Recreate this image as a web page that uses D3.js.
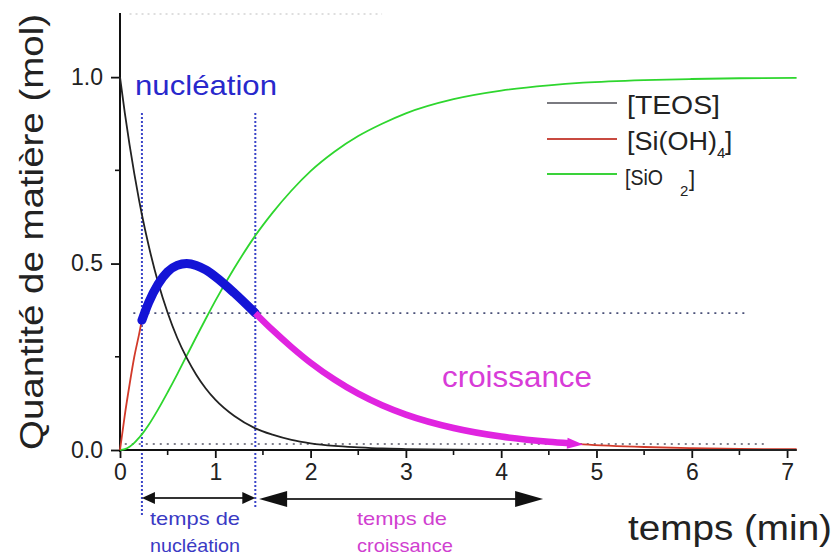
<!DOCTYPE html>
<html>
<head>
<meta charset="utf-8">
<script src="https://cdn.jsdelivr.net/npm/d3@7/dist/d3.min.js"></script>
<style>
  html, body { margin: 0; padding: 0; background: #fff; }
  svg { display: block; font-family: Arial, "Liberation Sans", Helvetica, sans-serif; }
</style>
</head>
<body>
<svg id="chart" width="835" height="555"></svg>
<script>
// Time grid (min) shared by the three species
const times = [0, 0.05, 0.1, 0.15, 0.2, 0.23, 0.3, 0.4, 0.5, 0.6, 0.7, 0.8, 0.9, 1.0,
  1.2, 1.42, 1.6, 1.8, 2.0, 2.25, 2.5, 2.75, 3.0, 3.5, 4.0, 4.5, 4.86, 5.5, 6.0, 6.5, 7.1];

// Amounts of matter (mol)
const teos = [1.00, 0.905, 0.819, 0.741, 0.670, 0.631, 0.549, 0.449, 0.368, 0.301, 0.247, 0.202,
  0.165, 0.135, 0.091, 0.058, 0.041, 0.027, 0.018, 0.011, 0.007, 0.004, 0.0025, 0.001, 0.0003,
  0, 0, 0, 0, 0, 0];
const silanol = [0, 0.093, 0.175, 0.250, 0.310, 0.348, 0.395, 0.445, 0.478, 0.495, 0.500, 0.495,
  0.483, 0.465, 0.421, 0.367, 0.322, 0.276, 0.234, 0.189, 0.151, 0.120, 0.095, 0.059, 0.036,
  0.022, 0.015, 0.008, 0.005, 0.003, 0.002];
const silica = [0, 0.0024, 0.009, 0.019, 0.033, 0.042, 0.067, 0.109, 0.155, 0.203, 0.253, 0.303,
  0.352, 0.400, 0.488, 0.575, 0.636, 0.696, 0.748, 0.800, 0.842, 0.875, 0.903, 0.941, 0.964,
  0.978, 0.985, 0.992, 0.995, 0.997, 0.998];

// Phases: nucleation window and end of the growth arrow (min)
const nucleationWindow = [0.23, 1.42];
const growthEnd = 4.86;
// Reference levels (mol)
const supersatLevel = 0.367;
const solubilityLevel = 0.016;

// Axis ticks
const xTicks = [0, 1, 2, 3, 4, 5, 6, 7];
const xMinorTicks = [0.5, 1.5, 2.5, 3.5, 4.5, 5.5, 6.5];
const yTicks = [0, 0.5, 1.0];
const yMinorTicks = [0.25, 0.75];

const legendItems = ["[TEOS]", "[Si(OH)", "[SiO"];

const svg = d3.select("#chart");

const x = d3.scaleLinear().domain([0, 7.1]).range([120, 796.6]);
const y = d3.scaleLinear().domain([0, 1.172]).range([450, 13]);

// ---- reference dotted lines ----
const g = svg.append("g");
g.append("line")
  .attr("x1", x(0.1)).attr("x2", x(2.75))
  .attr("y1", y(1.172) + 1).attr("y2", y(1.172) + 1)
  .attr("stroke", "#d4d4d4").attr("stroke-width", 1.5).attr("stroke-dasharray", "2,4");
g.append("line")
  .attr("x1", x(0.14)).attr("x2", x(6.56))
  .attr("y1", y(supersatLevel)).attr("y2", y(supersatLevel))
  .attr("stroke", "#4a5078").attr("stroke-width", 1.8).attr("stroke-dasharray", "2,5");
g.append("line")
  .attr("x1", x(0.05)).attr("x2", x(6.76))
  .attr("y1", y(solubilityLevel)).attr("y2", y(solubilityLevel))
  .attr("stroke", "#555565").attr("stroke-width", 1.5).attr("stroke-dasharray", "2,5");
nucleationWindow.forEach((t, i) => {
  g.append("line")
    .attr("x1", x(t)).attr("x2", x(t))
    .attr("y1", 113).attr("y2", i === 0 ? 516 : 508)
    .attr("stroke", "#3a44c8").attr("stroke-width", 2).attr("stroke-dasharray", "2,2");
});

// ---- axes ----
const axisColor = "#111";
const xAxis = d3.axisBottom(x).tickValues(xTicks).tickSize(8).tickPadding(6).tickFormat(d3.format("d"));
const xAxisG = svg.append("g").attr("transform", `translate(0,${y(0)})`).call(xAxis);
xAxisG.select(".domain").attr("d", `M${x(0)},0H${x(7.1)}`).attr("stroke", axisColor).attr("stroke-width", 2);
xAxisG.selectAll(".tick line").attr("stroke", axisColor).attr("stroke-width", 1.8);
xAxisG.selectAll(".tick text").attr("font-size", 23).attr("fill", "#222")
  .attr("font-family", "Arial, 'Liberation Sans', sans-serif");
svg.append("g").selectAll("line").data(xMinorTicks).join("line")
  .attr("x1", d => x(d)).attr("x2", d => x(d))
  .attr("y1", y(0)).attr("y2", y(0) + 5)
  .attr("stroke", axisColor).attr("stroke-width", 1.6);

const yAxis = d3.axisLeft(y).tickValues(yTicks).tickSize(9).tickPadding(8).tickFormat(d3.format(".1f"));
const yAxisG = svg.append("g").attr("transform", `translate(${x(0)},0)`).call(yAxis);
yAxisG.select(".domain").attr("d", `M0,${y(1.172)}V${y(0) + 2}`).attr("stroke", axisColor).attr("stroke-width", 2);
yAxisG.selectAll(".tick line").attr("stroke", axisColor).attr("stroke-width", 1.8);
yAxisG.selectAll(".tick text").attr("font-size", 23).attr("fill", "#222")
  .attr("font-family", "Arial, 'Liberation Sans', sans-serif");
svg.append("g").selectAll("line").data(yMinorTicks).join("line")
  .attr("x1", x(0) - 5).attr("x2", x(0))
  .attr("y1", d => y(d)).attr("y2", d => y(d))
  .attr("stroke", axisColor).attr("stroke-width", 1.6);

// ---- curves ----
const line = d3.line().x(d => x(d[0])).y(d => y(d[1])).curve(d3.curveMonotoneX);
const pairs = arr => times.map((t, i) => [t, arr[i]]);

const teosPts = pairs(teos);
const silanolPts = pairs(silanol);
const silicaPts = pairs(silica);

svg.append("path").attr("d", line(silicaPts))
  .attr("fill", "none").attr("stroke", "#2ed62e").attr("stroke-width", 1.8);
svg.append("path").attr("d", line(silanolPts))
  .attr("fill", "none").attr("stroke", "#d23a2a").attr("stroke-width", 1.8);
svg.append("path").attr("d", line(teosPts))
  .attr("fill", "none").attr("stroke", "#222").attr("stroke-width", 1.8);

// Nucleation segment (thick blue)
const nucPts = silanolPts.filter(d => d[0] >= nucleationWindow[0] && d[0] <= nucleationWindow[1]);
svg.append("path").attr("d", line(nucPts))
  .attr("fill", "none").attr("stroke", "#1414d6").attr("stroke-width", 9)
  .attr("stroke-linecap", "round");

// Growth segment (thick magenta, ending with an arrow head)
const growPts = silanolPts.filter(d => d[0] >= nucleationWindow[1] && d[0] <= growthEnd);
const tip = growPts[growPts.length - 1];
const prev = growPts[growPts.length - 2];
const ang = Math.atan2(y(tip[1]) - y(prev[1]), x(tip[0]) - x(prev[0]));
const headLen = 16, headHalf = 5.5;
const bx = x(tip[0]) - headLen * Math.cos(ang), by = y(tip[1]) - headLen * Math.sin(ang);
const shaft = growPts.slice(0, -1).concat([[x.invert(bx + 2 * Math.cos(ang)), y.invert(by + 2 * Math.sin(ang))]]);
svg.append("path").attr("d", line(shaft))
  .attr("fill", "none").attr("stroke", "#e024e0").attr("stroke-width", 6.5)
  .attr("stroke-linecap", "butt");
svg.append("path")
  .attr("d", `M${x(tip[0])},${y(tip[1])}L${bx - headHalf * Math.sin(ang)},${by + headHalf * Math.cos(ang)}L${bx + headHalf * Math.sin(ang)},${by - headHalf * Math.cos(ang)}Z`)
  .attr("fill", "#e024e0");

// ---- duration arrows under the axis ----
function doubleArrow(t0, t1, yPix, len, half) {
  const a = x(t0), b = x(t1);
  svg.append("line").attr("x1", a + len - 1).attr("x2", b - len + 1).attr("y1", yPix).attr("y2", yPix)
    .attr("stroke", "#333").attr("stroke-width", 2);
  svg.append("path").attr("d", `M${a},${yPix}L${a + len},${yPix - half}L${a + len},${yPix + half}Z`).attr("fill", "#111");
  svg.append("path").attr("d", `M${b},${yPix}L${b - len},${yPix - half}L${b - len},${yPix + half}Z`).attr("fill", "#111");
}
doubleArrow(nucleationWindow[0], nucleationWindow[1], 498, 13, 6);
doubleArrow(1.46, 4.44, 499, 28, 8);

// ---- text ----
function label(txt, px, py, size, color, len, anchor) {
  const t = svg.append("text").attr("x", px).attr("y", py).attr("font-size", size)
    .attr("fill", color).attr("text-anchor", anchor || "start").text(txt);
  if (len) t.attr("textLength", len).attr("lengthAdjust", "spacingAndGlyphs");
  return t;
}
label("nucléation", 135, 95, 28, "#2828cc", 142);
label("croissance", 442, 387, 29, "#d83cd8", 150);
label("temps de", 150, 525, 19, "#3a3ac4", 90);
label("nucléation", 150, 552, 19, "#3a3ac4", 90);
label("temps de", 357, 525, 19, "#d040d0", 90);
label("croissance", 357, 552, 19, "#d040d0", 96);
label("temps (min)", 628, 540, 35, "#222", 204);

svg.append("text")
  .attr("transform", "translate(43,232) rotate(-90)")
  .attr("text-anchor", "middle").attr("font-size", 34).attr("fill", "#222")
  .attr("textLength", 436).attr("lengthAdjust", "spacingAndGlyphs")
  .text("Quantité de matière (mol)");

// ---- legend ----
const legendColors = ["#7a7a80", "#c84a40", "#3ad23a"];
const legendY = [103, 139, 174];
legendItems.forEach((name, i) => {
  svg.append("line").attr("x1", 547).attr("x2", 617).attr("y1", legendY[i]).attr("y2", legendY[i])
    .attr("stroke", legendColors[i]).attr("stroke-width", 2.2);
});
label(legendItems[0], 627, 114, 26, "#222", 93);
label(legendItems[1], 627, 150, 26, "#222", 90);
label("4", 717, 158, 15, "#222");
label("]", 725, 150, 26, "#222");
label(legendItems[2], 625, 185, 22, "#222", 38);
label("2", 680, 196, 15, "#222");
label("]", 689, 186, 22, "#222");
</script>
</body>
</html>
